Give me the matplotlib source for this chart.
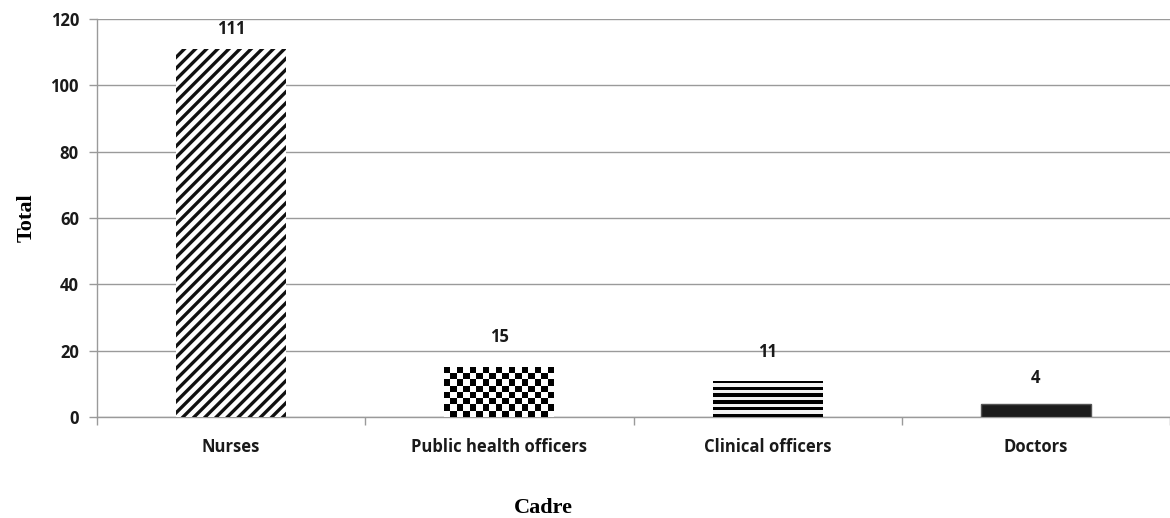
import numpy as np
import matplotlib
matplotlib.use('Agg')
import matplotlib.pyplot as plt

cadres = ['Nurses', 'Public health officers', 'Clinical officers', 'Doctors']
totals = [111, 15, 11, 4]
y_ticks = [0, 20, 40, 60, 80, 100, 120]

grey = '#9a9a9a'
bar_width = 0.41
label_pad = [8, 15, 14, 12]  # points between bar top and its value label

fig = plt.figure(figsize=(11.7, 5.18), dpi=100)
ax = fig.add_axes([97 / 1170, 1 - 417 / 518, 1 - 97 / 1170, (417 - 19) / 518])

x = np.arange(len(cadres))


def texture(bar, pattern):
    """Fill a bar with an image pattern clipped to its outline."""
    x0, y0 = bar.get_x(), bar.get_y()
    im = ax.imshow(pattern, cmap='gray', vmin=0.08, vmax=1,
                   interpolation='nearest', aspect='auto', zorder=4,
                   extent=[x0, x0 + bar.get_width(), y0, y0 + bar.get_height()])
    im.set_clip_path(bar)


# each cadre gets its own fill: diagonal, checker, horizontal stripes, solid
with plt.rc_context({'hatch.linewidth': 2.4}):
    ax.bar(x[0], totals[0], bar_width, color='white', edgecolor='#111111',
           hatch='///', linewidth=0, zorder=3)
checker_bar = ax.bar(x[1], totals[1], bar_width, color='white',
                     linewidth=0, zorder=3)[0]
stripe_bar = ax.bar(x[2], totals[2], bar_width, color='white',
                    linewidth=0, zorder=3)[0]
ax.bar(x[3], totals[3], bar_width, color='#1c1c1c', edgecolor='#555555',
       linewidth=1, zorder=3)

board = (np.add.outer(np.arange(8), np.arange(17)) % 2).astype(float)
texture(checker_bar, board)
stripes = (np.arange(11) % 2).astype(float)[:, None] * np.ones((1, 4))
texture(stripe_bar, stripes * 0.95 + 0.05 * (stripes == 0))

for xi, v, pad in zip(x, totals, label_pad):
    ax.annotate(f'{v}', (xi, v), textcoords='offset points', xytext=(0, pad),
                ha='center', va='bottom', fontsize=12, fontweight='bold',
                family='Open Sans', color='#1a1a1a')

ax.set_xlim(-0.5, len(cadres) - 0.5)
ax.set_ylim(0, 120)
ax.set_yticks(y_ticks)
ax.set_xticks(x)
ax.set_xticklabels(cadres)
ax.set_xticks(np.arange(len(cadres) + 1) - 0.5, minor=True)
ax.tick_params(axis='x', which='major', length=0, pad=15)
ax.tick_params(axis='x', which='minor', length=6, color=grey, width=1)
ax.tick_params(axis='y', length=6, color=grey, width=1, pad=7)
for lab in ax.get_xticklabels() + ax.get_yticklabels():
    lab.set_family('Open Sans')
    lab.set_fontweight('bold')
    lab.set_fontsize(12)
    lab.set_color('#1a1a1a')

ax.grid(axis='y', color=grey, linewidth=1, zorder=0)
ax.set_axisbelow(True)
for side in ['top', 'right']:
    ax.spines[side].set_visible(False)
for side in ['left', 'bottom']:
    ax.spines[side].set_color(grey)
    ax.spines[side].set_linewidth(1)

ax.set_ylabel('Total', family='Liberation Serif', fontweight='bold',
              fontsize=16, labelpad=10)
fig.text(543 / 1170, 1 - 508 / 518, 'Cadre', family='Liberation Serif',
         fontweight='bold', fontsize=16, ha='center', va='center')

fig.savefig('out.png', dpi=100)
